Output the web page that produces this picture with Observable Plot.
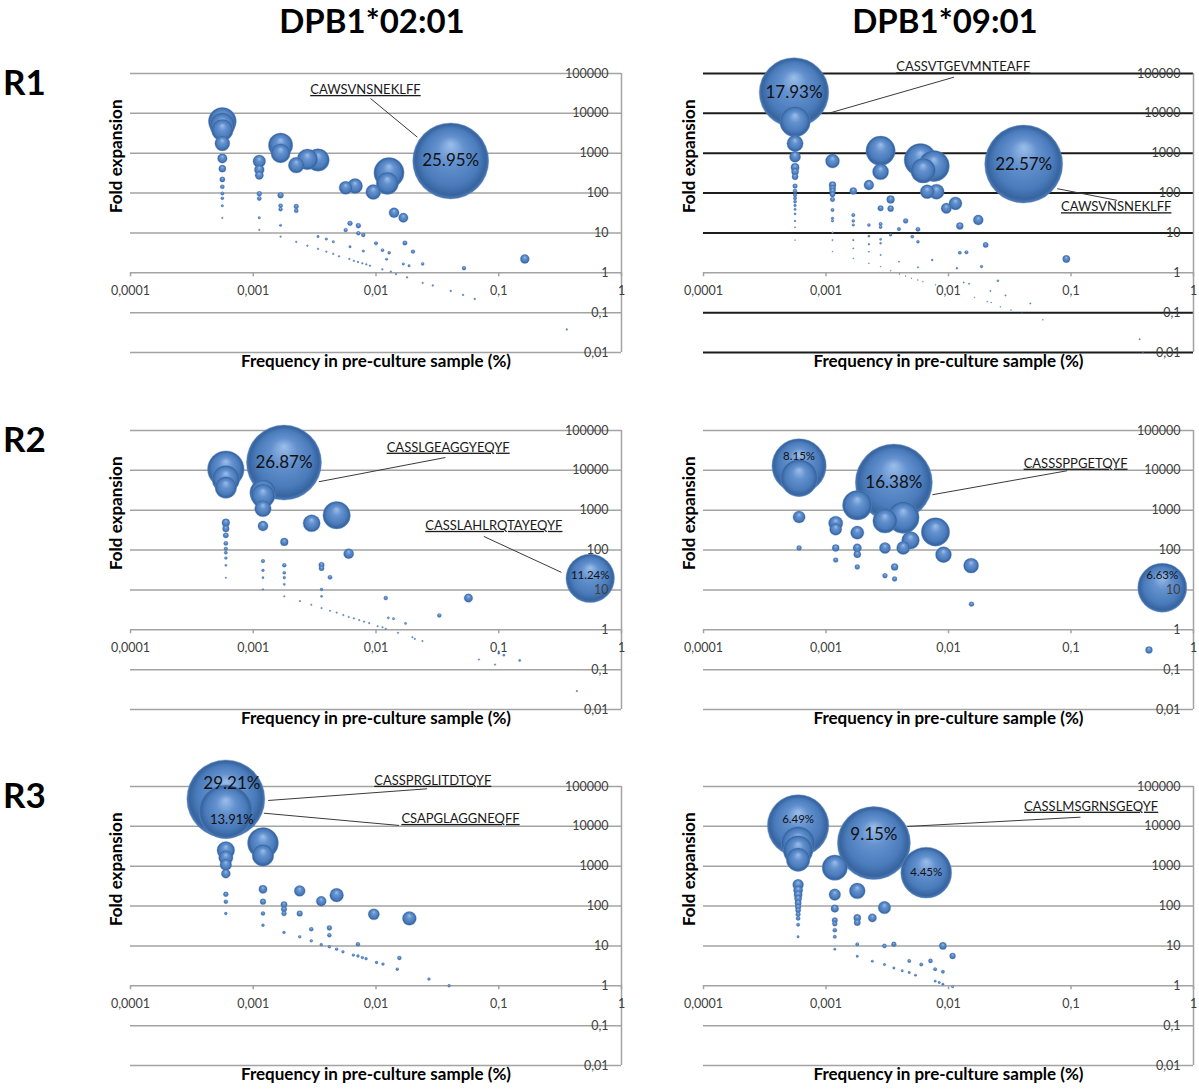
<!DOCTYPE html>
<html><head><meta charset="utf-8">
<script src="https://cdn.jsdelivr.net/npm/d3@7"></script>
<script src="https://cdn.jsdelivr.net/npm/@observablehq/plot@0.6"></script>
<style>
body{margin:0;background:#fff;}
#root{position:relative;width:1199px;height:1091px;overflow:hidden;font-family:Lato,"Open Sans",sans-serif;background:#fff;}
.ttl{position:absolute;top:4px;font-weight:bold;font-size:33px;line-height:1;color:#000;white-space:nowrap;transform:translateX(-50%);}
.row{position:absolute;left:3px;font-weight:bold;font-size:35px;line-height:1;color:#000;}
.panel{position:absolute;}
</style></head><body><div id="root"></div>
<script>
// ---------- axis ticks & texts ----------
const xTicks = [0.0001, 0.001, 0.01, 0.1, 1];
const xTickLabels = ["0,0001", "0,001", "0,01", "0,1", "1"];
const yTicks = [0.01, 0.1, 1, 10, 100, 1000, 10000, 100000];
const yTickLabels = ["0,01", "0,1", "1", "10", "100", "1000", "10000", "100000"];
const alleles = ["DPB1*02:01", "DPB1*09:01"];
const rows = ["R1", "R2", "R3"];
const xTitle = "Frequency in pre-culture sample (%)";
const yTitle = "Fold expansion";

// ---------- clones: [pre-culture frequency %, fold expansion, post-culture frequency %] ----------
const r1_0201 = [
[0.00056,6300,3.5],[0.00056,5000,2.8],[0.00056,3800,2.1],[0.00056,1760,1.0],[0.00056,740,0.41],[0.00056,410,0.23],[0.00056,220,0.12],[0.00056,144,0.08],[0.00056,98,0.055],[0.00056,74,0.041],[0.00056,48,0.027],[0.00056,24,0.013],
[0.00112,630,0.71],[0.00112,385,0.43],[0.00112,278,0.31],[0.00112,96,0.11],[0.00112,73,0.082],[0.00112,24,0.027],[0.00112,12,0.013],
[0.00167,1590,2.66],[0.00167,995,1.66],[0.00167,88,0.15],[0.00167,48,0.08],[0.00167,39,0.065],[0.00167,15.5,0.026],[0.00167,8.1,0.0135],
[0.00224,500,1.12],[0.00224,46,0.103],[0.00224,36,0.08],[0.00224,6.0,0.0134],
[0.00276,700,1.93],[0.00276,4.8,0.013],
[0.00337,676,2.28],[0.00337,8.1,0.027],[0.00337,4.0,0.0135],
[0.00394,7.0,0.028],[0.00394,3.4,0.0134],[0.00449,6.0,0.027],[0.00449,3.0,0.0135],[0.0050,2.6,0.013],
[0.00566,136,0.77],[0.00566,11.8,0.067],[0.00614,17.4,0.107],[0.00614,4.5,0.028],[0.00607,2.22,0.0135],
[0.00675,150,1.01],[0.0066,1.99,0.0131],[0.00718,15.2,0.11],[0.00718,9.8,0.07],[0.00713,1.87,0.0133],[0.00788,8.9,0.07],[0.00788,3.5,0.028],[0.00774,1.73,0.0134],[0.00834,1.63,0.0136],[0.00893,1.51,0.0135],
[0.0095,106,1.0],[0.01,5.5,0.055],[0.0113,3.7,0.042],[0.01127,1.22,0.0137],[0.0122,2.2,0.027],[0.0128,3.2,0.041],[0.0132,1.07,0.0141],
[0.01276,324,4.1],[0.01237,175,2.2],[0.01403,32,0.45],[0.01456,0.93,0.0135],[0.0167,24,0.4],[0.0167,1.67,0.028],[0.0172,5.6,0.096],[0.0186,1.5,0.028],[0.0179,0.77,0.0138],
[0.02,3.4,0.068],[0.024,1.67,0.04],[0.024,0.56,0.0134],[0.029,0.48,0.0139],[0.0406,640,25.95],[0.0406,0.35,0.0142],[0.0521,1.3,0.068],[0.0512,0.28,0.0143],[0.0637,0.22,0.014],[0.163,2.22,0.36],[0.358,0.038,0.0136]
];
const r1_0901 = [
[0.000548,33400,17.93],[0.000559,6150,3.44],[0.000559,1760,0.98],[0.000559,813,0.45],[0.000559,440,0.25],[0.000559,345,0.19],[0.000559,257,0.14],[0.000559,150,0.084],[0.000559,113,0.063],[0.000559,89,0.05],[0.000559,74,0.041],[0.000559,61,0.034],[0.000559,49,0.027],[0.000559,39,0.022],[0.000559,30,0.017],[0.000559,20,0.011],[0.000559,13.8,0.0077],[0.000559,6.6,0.0037],
[0.00113,635,0.72],[0.00113,159,0.18],[0.00113,131,0.15],[0.00113,113,0.128],[0.00113,93,0.105],[0.00113,69,0.078],[0.00113,37.6,0.042],[0.00113,23.2,0.026],[0.00113,20,0.023],[0.00113,10.2,0.0115],[0.00113,6.6,0.0075],[0.00113,3.4,0.0038],
[0.00167,113,0.19],[0.00167,28,0.047],[0.00167,20,0.033],[0.00167,15.8,0.026],[0.00167,6.6,0.011],[0.00167,4.1,0.0068],[0.00167,2.3,0.0038],
[0.00224,159,0.36],[0.00224,15.8,0.035],[0.00224,8.3,0.019],[0.00224,5.2,0.0116],[0.00224,3.4,0.0076],[0.00224,1.73,0.0039],
[0.00279,1150,3.2],[0.00279,343,0.96],[0.00279,41.5,0.116],[0.00279,16.7,0.047],[0.00279,14,0.039],[0.00279,6.9,0.019],[0.00279,5.5,0.015],[0.00279,2.8,0.0078],[0.00279,1.43,0.004],
[0.00337,69,0.23],[0.00337,40.7,0.137],[0.00337,8.9,0.03],[0.00337,1.13,0.0038],
[0.00394,12.5,0.049],[0.00394,1.9,0.0075],[0.00398,0.93,0.0037],[0.00447,20,0.09],[0.00446,0.83,0.0037],[0.00506,8.1,0.041],[0.00499,0.73,0.0036],[0.00563,12.3,0.07],[0.00563,6.0,0.034],[0.00563,1.38,0.0078],[0.00562,0.66,0.0037],
[0.00591,676,4.0],[0.00759,476,3.6],[0.00621,365,2.27],[0.0067,108,0.72],[0.00798,108,0.86],[0.00617,0.6,0.0037],[0.00736,2.1,0.0155],[0.00783,0.5,0.0039],[0.0085,0.45,0.0038],[0.0096,41.5,0.4],[0.0096,0.41,0.0039],
[0.0114,55,0.62],[0.01237,14.9,0.18],[0.01237,3.2,0.04],[0.014,3.27,0.046],[0.0117,1.3,0.015],[0.0133,0.57,0.0076],[0.0147,0.53,0.0078],[0.0163,0.24,0.0039],[0.0175,21.1,0.37],[0.0186,1.43,0.027],[0.0201,5.0,0.1],
[0.0207,0.19,0.0039],[0.022,0.35,0.0077],[0.0223,0.18,0.004],[0.0253,0.63,0.016],[0.0265,0.14,0.0037],[0.0292,0.27,0.0079],[0.0324,0.117,0.0038],[0.0398,0.097,0.0039],[0.0411,534,22.57],[0.0466,0.17,0.0079],[0.0589,0.066,0.0039],
[0.0916,2.22,0.2],[0.363,0.0215,0.0078],[0.386,0.01,0.0039]
];
const r2_0201 = [
[0.000598,10700,6.4],[0.000598,6000,3.6],[0.000598,3700,2.2],[0.000598,488,0.29],[0.000598,344,0.21],[0.000598,234,0.14],[0.000598,147,0.088],[0.000598,108,0.065],[0.000598,86,0.051],[0.000598,63,0.038],[0.000598,41.5,0.025],[0.000598,20.3,0.012],
[0.0012,2770,3.3],[0.0012,2290,2.7],[0.0012,1100,1.3],[0.0012,402,0.48],[0.0012,53,0.064],[0.0012,31,0.037],[0.0012,20.3,0.024],[0.0012,10.3,0.012],
[0.00178,15700,26.87],[0.00179,160,0.29],[0.00179,41.5,0.074],[0.00179,27,0.048],[0.00179,20.3,0.036],[0.00179,13.8,0.025],[0.00179,6.9,0.012],
[0.0024,5.25,0.0126],[0.00297,4.25,0.0126],[0.00299,470,1.4],[0.00478,750,3.6],
[0.0036,42.2,0.15],[0.0036,35,0.126],[0.0036,10.3,0.037],[0.0036,6.9,0.025],[0.0036,3.5,0.0126],
[0.00422,20.7,0.087],[0.00422,3.0,0.0127],[0.00599,81,0.49],[0.00478,2.7,0.0129],[0.00542,2.34,0.0127],[0.006,2.1,0.0126],[0.0066,1.93,0.0127],[0.0073,1.75,0.0128],[0.008,1.6,0.0128],[0.0088,1.47,0.0129],[0.0103,1.23,0.0127],[0.0113,1.16,0.0131],[0.012,1.06,0.0127],[0.0151,0.84,0.0127],[0.0198,0.65,0.0129],[0.0239,0.52,0.0124],
[0.012,6.25,0.075],[0.0126,2.0,0.025],[0.0139,1.9,0.026],[0.0174,1.44,0.025],[0.0207,0.59,0.0122],[0.0328,2.29,0.075],[0.0566,6.25,0.35],[0.069,0.18,0.0124],[0.0933,0.134,0.0125],[0.1,0.26,0.026],[0.11,0.23,0.025],[0.148,0.17,0.025],[0.433,0.029,0.0126],[0.556,19.5,11.24]
];
const r2_0901 = [
[0.000603,12950,8.15],[0.000603,6400,3.8],[0.000603,676,0.41],[0.000603,113,0.068],
[0.0012,470,0.56],[0.0012,332,0.4],[0.0012,113,0.135],[0.0012,56,0.067],
[0.0018,1330,2.4],[0.0018,274,0.49],[0.0018,113,0.2],[0.0018,78,0.14],[0.0018,37.6,0.068],
[0.00303,537,1.63],[0.00303,113,0.34],[0.00303,22.7,0.069],
[0.00358,4930,16.38],[0.00427,652,2.8],[0.00427,113,0.48],[0.00363,37.6,0.136],[0.00363,18.8,0.068],[0.0049,176,0.86],[0.00783,285,2.23],[0.0091,76.6,0.7],[0.0153,40.7,0.62],[0.0154,4.4,0.068],[0.556,11.35,6.63],[0.433,0.31,0.134]
];
const r3_0201 = [
[0.000598,48800,29.21],[0.000598,23200,13.91],[0.000598,2500,1.5],[0.000598,1640,0.98],[0.000598,1090,0.65],[0.000598,650,0.39],[0.000598,197,0.118],[0.000598,129,0.077],[0.000598,65,0.039],
[0.0012,3810,4.6],[0.0012,1870,2.24],[0.0012,263,0.32],[0.0012,129,0.155],[0.0012,65,0.078],[0.0012,33,0.04],
[0.00178,109,0.19],[0.00178,83,0.15],[0.00178,65,0.116],[0.00178,21.8,0.039],
[0.00239,240,0.57],[0.00239,65,0.155],[0.00239,16.9,0.04],
[0.00297,26.3,0.078],[0.00297,13.4,0.04],[0.00358,132,0.47],[0.00358,10.8,0.039],[0.00478,188,0.9],[0.00417,28.3,0.118],[0.00417,18.6,0.078],[0.00417,9.5,0.04],[0.00478,8.3,0.04],[0.00538,7.1,0.038],[0.00654,5.9,0.039],[0.00713,11,0.078],[0.00713,5.6,0.04],[0.00774,5.1,0.039],[0.0083,4.8,0.04],
[0.0096,62.3,0.6],[0.0187,49,0.92],[0.0101,3.85,0.039],[0.0114,3.5,0.04],[0.0155,5.0,0.078],[0.0149,2.6,0.039],[0.027,1.47,0.04],[0.0394,1.0,0.039]
];
const r3_0901 = [
[0.000592,10540,6.49],[0.000592,3660,2.0],[0.000592,2490,1.5],[0.000592,1460,0.95],[0.000592,345,0.2],[0.000592,249,0.147],[0.000592,194,0.115],[0.000592,154,0.091],[0.000592,120,0.071],[0.000592,95,0.056],[0.000592,78.5,0.046],[0.000592,62,0.037],[0.000592,49,0.029],[0.000592,34,0.02],[0.000592,17,0.01],
[0.00118,918,1.1],[0.00118,194,0.23],[0.00118,86.5,0.1],[0.00118,44,0.052],[0.00118,36,0.042],[0.00118,24.8,0.029],[0.00118,17,0.02],[0.00118,8.3,0.0098],
[0.00246,3810,9.15],[0.0018,240,0.43],[0.0018,50.5,0.09],[0.0018,38.5,0.069],[0.0018,11,0.02],[0.0018,5.5,0.0099],
[0.00239,50.5,0.12],[0.00239,4.15,0.0099],[0.003,91.6,0.27],[0.003,10,0.03],[0.003,3.42,0.0103],[0.00358,11,0.04],[0.00358,2.8,0.01],
[0.00658,689,4.45],[0.00419,2.38,0.01],[0.00478,4.2,0.02],[0.00478,2.16,0.0103],[0.00538,1.85,0.01],[0.00599,3.42,0.0205],[0.00713,4.2,0.03],[0.00778,2.6,0.02],[0.009,10,0.09],[0.009,2.25,0.02],[0.0108,5.6,0.06],[0.00778,1.31,0.0102],[0.0084,1.21,0.0102],[0.009,1.1,0.0099],[0.0108,0.94,0.0102]
];

// ---------- bubble data labels: [freq, fold, text] ----------
const r1_0201_labels = [[0.0406,640,"25.95%"]];
const r1_0901_labels = [[0.000548,33400,"17.93%"],[0.0411,534,"22.57%"]];
const r2_0201_labels = [[0.00178,15700,"26.87%"],[0.556,19.5,"11.24%"]];
const r2_0901_labels = [[0.000603,12950,"8.15%"],[0.00358,4930,"16.38%"],[0.556,11.35,"6.63%"]];
const r3_0201_labels = [[0.000598,48800,"29.21%"],[0.000598,23200,"13.91%"]];
const r3_0901_labels = [[0.000592,10540,"6.49%"],[0.00246,3810,"9.15%"],[0.00658,689,"4.45%"]];

// ---------- callouts: [CDR3 text, label x, label y, leader x1, y1, x2, y2] ----------
const r1_0201_callouts = [["CAWSVNSNEKLFF",0.0082,39000,0.00902,23600,0.0217,2535]];
const r1_0901_callouts = [["CASSVTGEVMNTEAFF",0.0132,144000,0.01107,80800,0.001058,10100],["CAWSVNSNEKLFF",0.234,44.6,0.0771,129,0.238,65.6]];
const r2_0201_callouts = [["CASSLGEAGGYEQYF",0.0387,37500,0.0368,21000,0.00342,5180],["CASSLAHLRQTAYEQYF",0.0912,409,0.0755,220,0.324,27.6]];
const r2_0901_callouts = [["CASSSPPGETQYF",0.109,14900,0.093,9770,0.00738,2445]];
const r3_0201_callouts = [["CASSPRGLITDTQYF",0.029,141000,0.0261,87600,0.001324,44600],["CSAPGLAGGNEQFF",0.0488,15500,0.0154,10540,0.00122,21400]];
const r3_0901_callouts = [["CASSLMSGRNSGEQYF",0.146,31500,0.1195,17000,0.00461,9940]];

// ---------- styling (not data) ----------
const labelStyle = {
  "25.95%":{fs:17}, "17.93%":{fs:17}, "22.57%":{fs:17}, "26.87%":{fs:17},
  "11.24%":{fs:11.5,dy:-3}, "8.15%":{fs:11.5,dy:-10}, "16.38%":{fs:17}, "6.63%":{fs:11.5,dy:-12},
  "29.21%":{fs:17,dx:6,dy:-15}, "13.91%":{fs:13,dx:6,dy:8},
  "6.49%":{fs:11.5,dy:-6}, "9.15%":{fs:17,dy:-9}, "4.45%":{fs:11.5}
};
const FONT = "Lato, 'Open Sans', sans-serif";
const root = document.getElementById("root");

const panels = [
  {id:"a", data:r1_0201, labels:r1_0201_labels, callouts:r1_0201_callouts, col:0, top:53,  rmax:38,   grid:"#a3a3a3", gridW:1.5},
  {id:"b", data:r1_0901, labels:r1_0901_labels, callouts:r1_0901_callouts, col:1, top:53,  rmax:39,   grid:"#1c1c1c", gridW:2},
  {id:"c", data:r2_0201, labels:r2_0201_labels, callouts:r2_0201_callouts, col:0, top:410, rmax:37.5, grid:"#a3a3a3", gridW:1.5},
  {id:"d", data:r2_0901, labels:r2_0901_labels, callouts:r2_0901_callouts, col:1, top:410, rmax:38.5, grid:"#a3a3a3", gridW:1.5},
  {id:"e", data:r3_0201, labels:r3_0201_labels, callouts:r3_0201_callouts, col:0, top:766, rmax:39,   grid:"#a3a3a3", gridW:1.5},
  {id:"f", data:r3_0901, labels:r3_0901_labels, callouts:r3_0901_callouts, col:1, top:766, rmax:36.5, grid:"#a3a3a3", gridW:1.5}
];
const colGeom = [{left:100, width:560, ml:30, mr:39}, {left:672, width:527, ml:31, mr:6}];

function makePanel(p) {
  const g = colGeom[p.col];
  const smax = d3.max(p.data, d => d[2]);
  const gid = "bub_" + p.id;
  const gridTicks = yTicks.filter(t => t !== 1);
  const labelMarks = p.labels.map(l => {
    const st = labelStyle[l[2]] || {fs:12};
    return Plot.text([l], {x: d => d[0], y: d => d[1], text: d => d[2], fontSize: st.fs, dx: st.dx || 0, dy: st.dy || 0, fill: "#111"});
  });
  const svg = Plot.plot({
    width: g.width, height: 324,
    marginLeft: g.ml, marginRight: g.mr, marginTop: 20, marginBottom: 25,
    x: {type: "log", domain: [1e-4, 1], axis: null},
    y: {type: "log", domain: [0.01, 1e5], axis: null},
    r: {type: "sqrt", domain: [0, smax], range: [0, p.rmax]},
    style: {fontFamily: FONT, background: "transparent", overflow: "visible"},
    marks: [
      Plot.ruleY(gridTicks, {x1: 1e-4, x2: 1, stroke: p.grid, strokeWidth: p.gridW}),
      Plot.ruleY([1], {x1: 1e-4, x2: 1, stroke: "#a3a3a3", strokeWidth: 1.5}),
      Plot.ruleX([1], {y1: 0.01, y2: 1e5, stroke: "#a3a3a3", strokeWidth: 1.5}),
      Plot.ruleX(xTicks, {y1: 1, y2: 10 ** -0.1, stroke: "#a3a3a3", strokeWidth: 1.5}),
      Plot.dot(p.data, {x: d => d[0], y: d => d[1], r: d => d[2], fill: `url(#${gid})`, stroke: "#4a79b6", strokeWidth: 0.35}),
      Plot.link(p.callouts, {x1: d => d[3], y1: d => d[4], x2: d => d[5], y2: d => d[6], stroke: "#3a3a3a", strokeWidth: 1}),
      Plot.text(p.callouts, {x: d => d[1], y: d => d[2], text: d => d[0], fontSize: 13, fill: "#1a1a1a"}),
      ...labelMarks,
      Plot.text(yTicks, {x: 1, y: d => d, text: (d, i) => yTickLabels[i], textAnchor: "end", dx: -13, fontSize: 12.5, fill: "#404040"}),
      Plot.text(xTicks, {x: d => d, y: 1, text: (d, i) => xTickLabels[i], dy: 18, fontSize: 12.5, fill: "#404040"}),
      Plot.text([yTitle], {frameAnchor: "left", dx: -14, rotate: -90, text: d => d, fontWeight: "bold", fontSize: 17, fill: "#000"}),
      Plot.text([xTitle], {frameAnchor: "bottom", dy: 14, text: d => d, fontWeight: "bold", fontSize: 17, fill: "#000"})
    ]
  });
  const ns = "http://www.w3.org/2000/svg";
  const defs = document.createElementNS(ns, "defs");
  defs.innerHTML = `<radialGradient id="${gid}" cx="0.5" cy="0.5" r="0.5" fx="0.5" fy="0.28">
    <stop offset="0" stop-color="#9bbfea"/>
    <stop offset="0.35" stop-color="#6592cf"/>
    <stop offset="0.75" stop-color="#4a7bbb"/>
    <stop offset="0.93" stop-color="#37649f"/>
    <stop offset="1" stop-color="#4f7eba"/>
  </radialGradient>`;
  svg.insertBefore(defs, svg.firstChild);
  const calloutTexts = new Set(p.callouts.map(c => c[0]));
  svg.querySelectorAll("text").forEach(t => {
    if (calloutTexts.has(t.textContent)) t.setAttribute("text-decoration", "underline");
  });
  svg.classList.add("panel");
  svg.style.left = g.left + "px";
  svg.style.top = p.top + "px";
  svg.style.position = "absolute";
  root.appendChild(svg);
}
panels.forEach(makePanel);

// titles & row labels
[372, 945].forEach((cx, i) => {
  const d = document.createElement("div");
  d.className = "ttl"; d.style.left = cx + "px"; d.textContent = alleles[i];
  root.appendChild(d);
});
[64, 421, 777].forEach((t, i) => {
  const d = document.createElement("div");
  d.className = "row"; d.style.top = t + "px"; d.textContent = rows[i];
  root.appendChild(d);
});
</script></body></html>
